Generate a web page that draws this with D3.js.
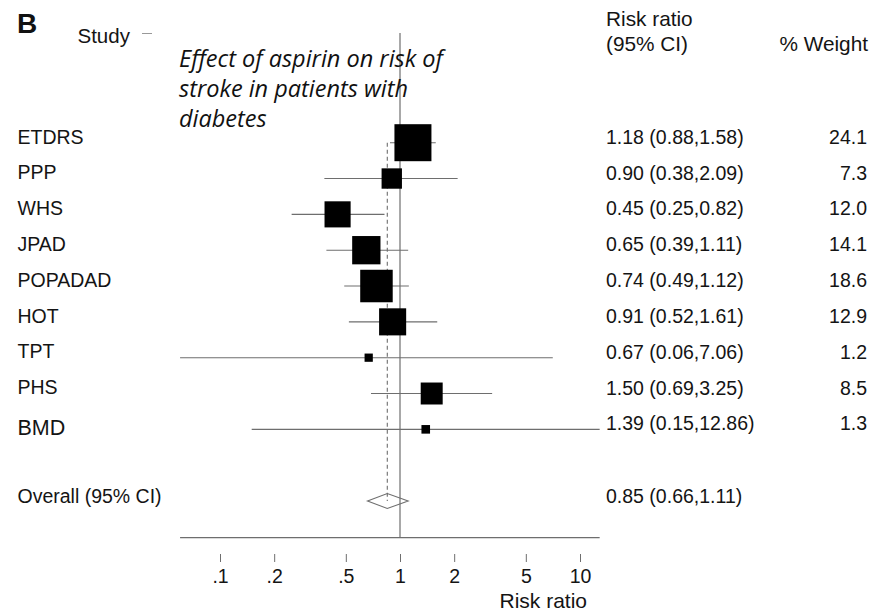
<!DOCTYPE html>
<html>
<head>
<meta charset="utf-8">
<script src="https://cdn.jsdelivr.net/npm/d3@7"></script>
<style>
  html, body { margin: 0; padding: 0; background: #fff; }
  svg { display: block; }
</style>
</head>
<body>
<svg id="chart" width="879" height="611"></svg>
<script>
// ---- data ----
const studies = ["ETDRS", "PPP", "WHS", "JPAD", "POPADAD", "HOT", "TPT", "PHS", "BMD"];
const riskRatio = [1.18, 0.90, 0.45, 0.65, 0.74, 0.91, 0.67, 1.50, 1.39];
const ciLow = [0.88, 0.38, 0.25, 0.39, 0.49, 0.52, 0.06, 0.69, 0.15];
const ciHigh = [1.58, 2.09, 0.82, 1.11, 1.12, 1.61, 7.06, 3.25, 12.86];
const weights = [24.1, 7.3, 12.0, 14.1, 18.6, 12.9, 1.2, 8.5, 1.3];
const overallLabel = "Overall (95% CI)";
const overallRR = 0.85;
const overallLow = 0.66;
const overallHigh = 1.11;
const tickValues = [0.1, 0.2, 0.5, 1, 2, 5, 10];
const tickLabels = [".1", ".2", ".5", "1", "2", "5", "10"];
const titleLines = ["Effect of aspirin on risk of", "stroke in patients with", "diabetes"];

// ---- drawing ----
const svg = d3.select("#chart");
const FONT = "'Liberation Sans', Arial, Helvetica, sans-serif";
const TXT = "#141414";
const GRAY = "#6e6e6e";

const x = d3.scaleLog().domain([0.1, 10]).range([220, 580]);
const y = d3.scaleLinear().domain([0, 10]).range([142.7, 501]);
const boxSize = d3.scaleSqrt().domain([0, 24.1]).range([0, 37]);
const overallRow = 10;
const axisY = 537.7;

// panel letter and headers
svg.append("text").attr("x", 17).attr("y", 33).text("B")
  .attr("font-family", FONT).attr("font-weight", "bold").attr("font-size", 28).attr("fill", "#111");
svg.append("text").attr("x", 77.5).attr("y", 43).text("Study")
  .attr("font-family", FONT).attr("font-size", 20.5).attr("fill", TXT);
svg.append("line").attr("x1", 142).attr("x2", 152).attr("y1", 33.5).attr("y2", 33.5)
  .attr("stroke", "#999").attr("stroke-width", 1);
svg.append("text").attr("x", 606).attr("y", 26).text("Risk ratio")
  .attr("font-family", FONT).attr("font-size", 20.8).attr("fill", TXT);
svg.append("text").attr("x", 606).attr("y", 51).text("(95% CI)")
  .attr("font-family", FONT).attr("font-size", 20.8).attr("fill", TXT);
svg.append("text").attr("x", 868).attr("y", 51).attr("text-anchor", "end").text("% Weight")
  .attr("font-family", FONT).attr("font-size", 20.8).attr("fill", TXT);

// reference line at 1
svg.append("line").attr("x1", x(1)).attr("x2", x(1)).attr("y1", 33).attr("y2", axisY)
  .attr("stroke", GRAY).attr("stroke-width", 1.2);

// dashed overall line
svg.append("line").attr("x1", x(overallRR)).attr("x2", x(overallRR))
  .attr("y1", y(0)).attr("y2", y(overallRow))
  .attr("stroke", GRAY).attr("stroke-width", 1.1).attr("stroke-dasharray", "4,3");

// title
const title = svg.append("text").attr("font-family", "'Open Sans', 'Noto Sans', sans-serif")
  .attr("font-style", "italic").attr("font-size", 23.5).attr("fill", "#111");
titleLines.forEach((t, i) => {
  title.append("tspan").attr("x", 179).attr("y", 66.5 + i * 30).text(t);
});

const rows = studies.map((s, i) => ({ s, i, rr: riskRatio[i], lo: ciLow[i], hi: ciHigh[i], w: weights[i] }));

// CI lines
svg.selectAll("line.ci").data(rows).join("line").attr("class", "ci")
  .attr("x1", d => x(d.lo)).attr("x2", d => x(d.hi))
  .attr("y1", d => y(d.i)).attr("y2", d => y(d.i))
  .attr("stroke", GRAY).attr("stroke-width", 1.1);

// boxes
svg.selectAll("rect.box").data(rows).join("rect").attr("class", "box")
  .attr("x", d => x(d.rr) - boxSize(d.w) / 2)
  .attr("y", d => y(d.i) - boxSize(d.w) / 2)
  .attr("width", d => boxSize(d.w)).attr("height", d => boxSize(d.w))
  .attr("fill", "#000");

// study labels
svg.selectAll("text.study").data(rows).join("text").attr("class", "study")
  .attr("x", 17.5).attr("y", d => y(d.i) + (d.s === "BMD" ? 5.5 : 0.8))
  .attr("font-family", FONT).attr("font-size", d => d.s === "BMD" ? 21.5 : 19.5).attr("fill", TXT)
  .text(d => d.s);

const f2 = d3.format(".2f"), f1 = d3.format(".1f");
svg.selectAll("text.ci").data(rows).join("text").attr("class", "ci")
  .attr("x", 606).attr("y", d => y(d.i) + 1)
  .attr("font-family", FONT).attr("font-size", 19.5).attr("fill", TXT)
  .text(d => `${f2(d.rr)} (${f2(d.lo)},${f2(d.hi)})`);
svg.selectAll("text.wt").data(rows).join("text").attr("class", "wt")
  .attr("x", 867).attr("y", d => y(d.i) + 1).attr("text-anchor", "end")
  .attr("font-family", FONT).attr("font-size", 19.5).attr("fill", TXT)
  .text(d => f1(d.w));

// overall
const yo = y(overallRow);
svg.append("path")
  .attr("d", `M${x(overallLow)},${yo} L${x(overallRR)},${yo - 7.5} L${x(overallHigh)},${yo} L${x(overallRR)},${yo + 7.5} Z`)
  .attr("fill", "none").attr("stroke", GRAY).attr("stroke-width", 1.1);
svg.append("text").attr("x", 17.5).attr("y", yo + 2).text(overallLabel)
  .attr("font-family", FONT).attr("font-size", 19.5).attr("fill", TXT);
svg.append("text").attr("x", 606).attr("y", yo + 2)
  .text(`${f2(overallRR)} (${f2(overallLow)},${f2(overallHigh)})`)
  .attr("font-family", FONT).attr("font-size", 19.5).attr("fill", TXT);

// axis line
svg.append("line")
  .attr("x1", x(d3.min(ciLow))).attr("x2", x(d3.max(ciHigh)))
  .attr("y1", axisY).attr("y2", axisY)
  .attr("stroke", GRAY).attr("stroke-width", 1.2);

// ticks and labels
const axis = d3.axisBottom(x).tickValues(tickValues)
  .tickFormat((d, i) => tickLabels[i]).tickSize(8).tickPadding(7);
const ag = svg.append("g").attr("transform", `translate(0,554)`).call(axis);
ag.select(".domain").remove();
ag.selectAll(".tick line").attr("stroke", GRAY).attr("stroke-width", 1);
ag.selectAll(".tick text").attr("font-family", FONT).attr("font-size", 19.5).attr("fill", TXT);

svg.append("text").attr("x", 587).attr("y", 608).attr("text-anchor", "end").text("Risk ratio")
  .attr("font-family", FONT).attr("font-size", 21).attr("fill", TXT);
</script>
</body>
</html>
